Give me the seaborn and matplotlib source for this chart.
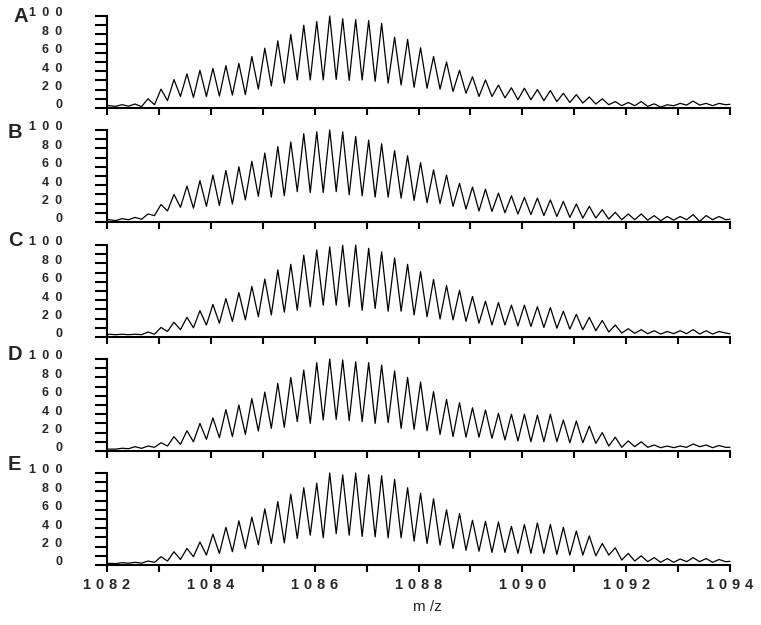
import numpy as np
import pandas as pd
import matplotlib
matplotlib.use("Agg")
import matplotlib.pyplot as plt
import seaborn as sns
from matplotlib.transforms import ScaledTranslation

# ---------------- data ----------------
panel_labels = ["A", "B", "C", "D", "E"]

# isotope peak centres (charge 4 -> 0.25 m/z spacing), 48 peaks
peak_mz = np.round(1082.04 + 0.25 * np.arange(48), 3)
valley_mz = np.round(peak_mz + 0.125, 3)

start_A, end_A = 2.5, 4.0
peaks_A = [2.5, 3.6, 4.3,
           10, 20.5, 31, 37, 41, 43, 46, 48.5, 56, 65, 73, 80, 90, 94, 100, 97,
           96, 95, 92, 77, 74.5, 65.5, 56, 50, 41, 34, 30.5, 25, 22, 21.5, 20, 19,
           16, 14.5, 12, 10, 7, 6, 7, 4.5, 3.5, 5, 7.5, 5, 5]
valleys_A = [1.8, 2.0, 1.5,
             3.6, 8, 12.5, 11.5, 12.5, 13, 14, 14.5, 20.5, 24, 27, 30.5, 30.5, 30.5,
             31, 30, 30.5, 29, 27, 25, 22.5, 21.5, 20.5, 18, 16, 12.5, 12.5, 11, 9,
             9, 8, 7, 6, 5.4, 4.3, 3.6, 2.5, 2.5, 1.8, 1, 2.5, 3.2, 3.2, 2.5, 3.6]

start_B, end_B = 2.5, 3.0
peaks_B = [2.5, 3.6, 5,
           8.7, 19, 30, 39, 45, 51, 56, 60, 66, 75, 82, 87, 96, 98, 100, 98,
           93, 89, 85, 77.6, 72, 64.6, 56.7, 51, 42, 38, 35.7, 31.4, 28.5, 26.7,
           26, 24, 22.4, 19.5, 17, 13.4, 10.5, 8.7, 8.7, 6.9, 6, 6, 8, 7, 6]
valleys_B = [1.5, 2.5, 3,
             7, 12, 16, 15, 17, 18, 19.5, 24, 28, 27, 28.5, 33, 32, 32, 33, 29.6,
             28.5, 27, 27, 26, 23.5, 21, 20, 17, 14, 12, 11.5, 10, 8.7, 8, 7, 6,
             5, 4.3, 4.3, 3.2, 2.5, 2.5, 2, 1.4, 2, 2.5, 0.7, 2.5, 2.5]

start_C, end_C = 2.0, 3.5
peaks_C = [3, 3, 3,
           5.4, 10.4, 16, 21.4, 28.6, 35.4, 41.8, 48.2, 55, 63, 73, 79, 89, 94.6,
           98, 99.6, 100, 96.4, 92.5, 86, 79, 71, 62.5, 56, 50.7, 44, 39, 37.5,
           34.6, 34.6, 33, 32, 28, 24.6, 21.4, 18, 13, 9, 8, 6.8, 6, 6.8, 8, 6.8, 6]
valleys_C = [2.5, 2.5, 2.5,
             3, 6, 8, 10, 13, 15, 17, 18.6, 22, 24, 27, 29, 33, 34.6, 34.6, 33, 29,
             31, 28, 28, 24, 22, 19.6, 18.6, 17, 15, 13, 13, 12, 11.4, 10.4, 9.6,
             8.6, 7.9, 6.8, 5.4, 4.3, 4, 3.6, 3.2, 3.6, 3.6, 3.2, 3.2, 4.3]

start_D, end_D = 2.0, 4.0
peaks_D = [2, 3, 4.7,
           5.4, 9, 15.6, 22, 30, 36, 45, 50, 57, 64, 73.5, 80, 88, 96, 100, 99,
           97, 96, 93.5, 87, 80, 75, 64.5, 56, 52.5, 47, 44.6, 41, 40, 40, 39, 40,
           33.7, 32.6, 27, 20, 15, 11, 10, 6.5, 5.4, 5.4, 7.6, 6.5, 6]
valleys_D = [2, 2.5, 2.9,
             4, 5.4, 7.2, 10, 12.7, 14.5, 15.6, 18, 21.7, 24.6, 25.7, 32, 30, 33.7,
             34.4, 33, 32, 30, 30.8, 24.6, 23.5, 22, 18, 15.6, 15, 15, 13.8, 12,
             10.9, 10.1, 10.1, 10.1, 9, 9, 8.3, 5.4, 4, 4.7, 4, 3.6, 3.6, 4, 4.7,
             3.6, 4]

start_E, end_E = 1.5, 4.0
peaks_E = [1.8, 2.5, 2.9,
           4.3, 9, 14.4, 18, 25, 33.5, 41, 48, 52, 61, 69, 77, 84, 89, 100, 98,
           100, 98, 97, 93, 84, 78, 72, 60, 56, 48.6, 47.5, 46.8, 42, 44, 45.7,
           44, 41, 37, 31.6, 23.4, 18.7, 12.6, 10, 8, 7, 6.5, 8, 7, 6]
valleys_E = [1.5, 2, 2,
             2.9, 4.3, 6, 9, 10.8, 12.6, 14.4, 18, 22, 23.4, 24, 28.8, 32.4, 29.5,
             34, 32.4, 31, 30.6, 29.5, 29.5, 26, 23.4, 21.6, 18, 16, 15, 13.7, 13.7,
             12.6, 12.6, 12.6, 11.5, 10.8, 10.8, 10, 10.8, 5.4, 4.3, 3.6, 2.9, 2.9,
             3.6, 3.6, 2.9, 3.6]

starts = [start_A, start_B, start_C, start_D, start_E]
ends = [end_A, end_B, end_C, end_D, end_E]
peaks = [peaks_A, peaks_B, peaks_C, peaks_D, peaks_E]
valleys = [valleys_A, valleys_B, valleys_C, valleys_D, valleys_E]

x_ticks = list(range(1082, 1095))
x_ticklabels = ["1\u20040\u20048\u20042", "", "1\u20040\u20048\u20044", "",
                "1\u20040\u20048\u20046", "", "1\u20040\u20048\u20048", "",
                "1\u20040\u20049\u20040", "", "1\u20040\u20049\u20042", "",
                "1\u20040\u20049\u20044"]
y_ticks = [0, 20, 40, 60, 80, 100]
y_ticklabels = ["0", "2\u20020", "4\u20020", "6\u20020", "8\u20020", "1\u20020\u20020"]
y_minor = [10, 30, 50, 70, 90]
x_label = "m /z"

# ---------------- figure ----------------
sns.set_style("ticks")
plt.rcParams["font.family"] = ["Liberation Sans", "DejaVu Sans"]

W, H = 761, 625
fig = plt.figure(figsize=(W / 100, H / 100), dpi=100)

left_px, right_px = 107, 730
bottoms_px = [108, 222, 337, 451, 565]
panel_h = 92
letter_pos = [(13, 16), (8, 132), (8, 241), (8, 354), (8, 464)]

for i, lab in enumerate(panel_labels):
    b = bottoms_px[i]
    ax = fig.add_axes([left_px / W, 1 - b / H, (right_px - left_px) / W, panel_h / H])
    xs = [1082.0]
    ys = [starts[i]]
    for pm, pv, vm, vv in zip(peak_mz, peaks[i], valley_mz, valleys[i]):
        xs += [pm, vm]
        ys += [pv, vv]
    xs.append(1094.0)
    ys.append(ends[i])
    df = pd.DataFrame({"mz": xs, "intensity": ys})
    sns.lineplot(data=df, x="mz", y="intensity", ax=ax, color="black",
                 linewidth=0.9, estimator=None, sort=False, clip_on=False)
    ax.set_xlim(1082, 1094)
    ax.set_ylim(0, 100)
    sns.despine(ax=ax)
    for s in ("left", "bottom"):
        ax.spines[s].set_linewidth(1.5)
        ax.spines[s].set_color("black")
    ax.set_xlabel("")
    ax.set_ylabel("")
    ax.set_yticks(y_ticks)
    ax.set_yticklabels(y_ticklabels, fontsize=9, fontweight="bold")
    ax.set_yticks(y_minor, minor=True)
    ax.tick_params(axis="y", which="both", direction="out", length=9, width=1.5,
                   pad=23, color="black")
    ax.set_xticks(x_ticks)
    if i == len(panel_labels) - 1:
        ax.set_xticklabels(x_ticklabels, fontsize=10.5, fontweight="bold")
    else:
        ax.set_xticklabels([""] * len(x_ticks))
    ax.tick_params(axis="x", which="both", direction="out", length=5, width=1.5,
                   pad=4.5, color="black")
    for t in ax.get_yticklabels():
        t.set_transform(t.get_transform() + ScaledTranslation(0, 3 / 72, fig.dpi_scale_trans))
    ax.patch.set_alpha(0)
    fig.text(letter_pos[i][0] / W, 1 - letter_pos[i][1] / H, lab, fontsize=14.5,
             fontweight="bold", ha="left", va="center")

fig.text(427 / W, 1 - 607 / H, x_label, fontsize=11, ha="center", va="center")

fig.savefig("out.png", dpi=100)
